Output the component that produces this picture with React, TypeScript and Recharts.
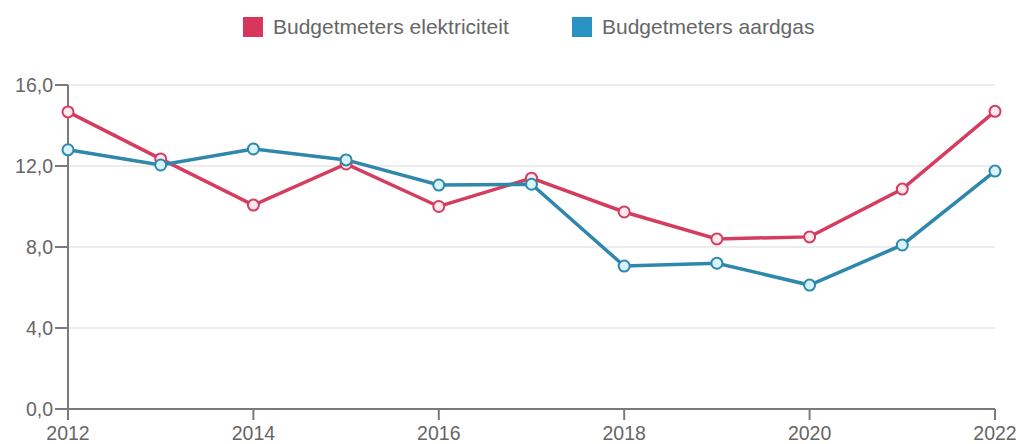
import React from "react";
import { LineChart, Line, XAxis, YAxis, CartesianGrid, Legend } from "recharts";

const years = [2012, 2013, 2014, 2015, 2016, 2017, 2018, 2019, 2020, 2021, 2022];
const elektriciteit = [14.67, 12.35, 10.07, 12.1, 10.0, 11.4, 9.73, 8.4, 8.5, 10.86, 14.7];
const aardgas = [12.8, 12.05, 12.84, 12.3, 11.06, 11.1, 7.06, 7.2, 6.12, 8.1, 11.75];
const xTicks = [2012, 2014, 2016, 2018, 2020, 2022];
const yTicks = [0, 4, 8, 12, 16];
const seriesNames = ["Budgetmeters elektriciteit", "Budgetmeters aardgas"];

const data = years.map((y, i) => ({ year: y, elek: elektriciteit[i], gas: aardgas[i] }));

const RED = "#d43d5f";
const BLUE = "#2f88ac";
const FONT = "'Liberation Sans', Arial, sans-serif";

const LegendContent = () => (
  <div style={{ position: "relative", height: 60, fontFamily: FONT, fontSize: 21, color: "#666" }}>
    {[
      { name: seriesNames[0], color: "#d9365e", left: 243 },
      { name: seriesNames[1], color: "#2a92c2", left: 572 },
    ].map((e, i) => (
      <div key={i} style={{ position: "absolute", left: e.left, top: 17, display: "flex", alignItems: "center", whiteSpace: "nowrap" }}>
        <div style={{ width: 20, height: 20, background: e.color, marginRight: 10 }} />
        <span style={{ lineHeight: "20px" }}>{e.name}</span>
      </div>
    ))}
  </div>
);

export default function App() {
  return (
    <div style={{ position: "absolute", left: 0, top: 0, width: 1020, height: 444, background: "#fff", overflow: "hidden" }}>
      <LineChart width={1020} height={444} data={data} margin={{ top: 25, right: 25, bottom: 5, left: 0 }}>
        <Legend
          verticalAlign="top"
          content={<LegendContent />}
          wrapperStyle={{ top: 0, left: 0, width: 1020, height: 60 }}
        />
        <CartesianGrid vertical={false} stroke="#ececec" strokeWidth={2} />
        <XAxis
          dataKey="year"
          type="number"
          domain={[2012, 2022]}
          ticks={xTicks}
          interval={0}
          tickSize={11}
          tickMargin={6}
          height={30}
          stroke="#7a7a7a"
          strokeWidth={2}
          tick={{ fill: "#666", fontSize: 19.5, fontFamily: FONT }}
        />
        <YAxis
          type="number"
          domain={[0, 16]}
          ticks={yTicks}
          interval={0}
          width={68}
          tickSize={13}
          tickMargin={2}
          stroke="#7a7a7a"
          strokeWidth={2}
          tickFormatter={(v: number) => v.toFixed(1).replace(".", ",")}
          tick={{ fill: "#666", fontSize: 19.5, fontFamily: FONT }}
        />
        <Line
          dataKey="elek"
          name={seriesNames[0]}
          stroke={RED}
          strokeWidth={3.5}
          dot={{ r: 5.5, fill: "#fde8ee", stroke: RED, strokeWidth: 2 }}
          isAnimationActive={false}
        />
        <Line
          dataKey="gas"
          name={seriesNames[1]}
          stroke={BLUE}
          strokeWidth={3.5}
          dot={{ r: 5.5, fill: "#d8f4fb", stroke: BLUE, strokeWidth: 2 }}
          isAnimationActive={false}
        />
      </LineChart>
    </div>
  );
}
